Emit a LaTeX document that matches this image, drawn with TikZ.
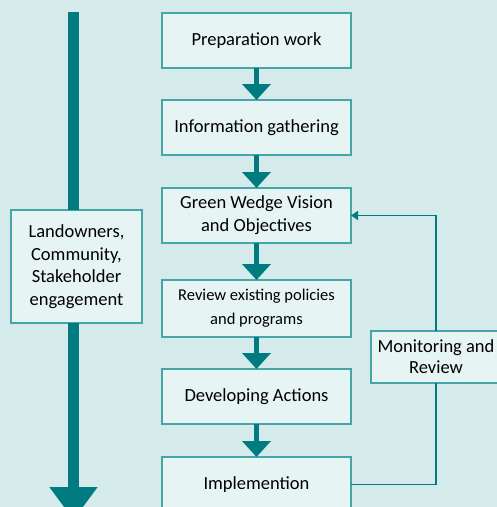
\documentclass[tikz,border=0pt]{standalone}
\usepackage{fontspec}
\setmainfont{Carlito}
\usetikzlibrary{positioning,arrows.meta}

\definecolor{wedgebg}{HTML}{D4EAEB}
\definecolor{wedgefill}{HTML}{E7F4F4}
\definecolor{wedgeline}{HTML}{45A5A8}
\definecolor{wedgearrow}{HTML}{007C80}

\begin{document}
\begin{tikzpicture}[
    stage/.style={rectangle, draw=wedgeline, fill=wedgefill, line width=1.5pt, minimum width=189pt, minimum height=55pt, text centered, align=center, inner sep=2pt, outer sep=0pt},
    side/.style={rectangle, draw=wedgeline, fill=wedgefill, line width=1.5pt, text centered, align=center, inner sep=2pt, outer sep=0pt},
    flow/.style={draw=wedgearrow, line width=5pt, -{Triangle[width=28pt,length=16pt]}},
    bigflow/.style={draw=wedgearrow, line width=11pt},
    feedback/.style={draw=wedgearrow, line width=1.5pt},
    node distance=33pt
]

  \tikzset{
    font={\fontsize{18.5pt}{23pt}\selectfont}
  }
% Background
\fill[wedgebg] (0,0) rectangle (497pt,-507pt);
\useasboundingbox (0,0) rectangle (497pt,-507pt);

% Nodes
\node[stage] at (256.5pt,-40.5pt) (prep) {Preparation work};
\node[stage, below=32pt of prep] (info) {Information gathering};
\node[stage, below=of info] (vision) {Green Wedge Vision\\and Objectives};
\node[stage, below=37pt of vision, minimum height=57pt, font={\fontsize{16.5pt}{24pt}\selectfont}] (review) {Review existing policies\\and programs};
\node[stage, below=32pt of review] (actions) {Developing Actions};
\node[stage, below=of actions] (impl) {Implemention};

\node[side, minimum width=131pt, minimum height=113pt, font={\fontsize{18.5pt}{22.5pt}\selectfont}] at (76.5pt,-266.5pt) (people) {Landowners,\\Community,\\Stakeholder\\engagement};
\node[side, minimum width=130pt, minimum height=52pt, font={\fontsize{18.5pt}{21pt}\selectfont}] at (436pt,-357pt) (monitor) {Monitoring and\\Review};

\coordinate (top) at (73.5pt,-12pt);
\coordinate (bottom) at (73.5pt,-520pt);

% Lines
\draw[flow] (prep) -- (info);
\draw[flow] (info) -- (vision);
\draw[flow] (vision) -- (review);
\draw[flow] (review) -- (actions);
\draw[flow] (actions) -- (impl);

\draw[bigflow] (top) -- (top |- people.north);
\draw[bigflow, -{Triangle[width=46pt,length=33pt]}] (top |- people.south) -- (bottom);

\draw[feedback] (impl.east) -| (monitor.south);
\draw[feedback, -{Triangle[width=9pt,length=7pt]}] (monitor.north) |- (vision.east);

\end{tikzpicture}
\end{document}
